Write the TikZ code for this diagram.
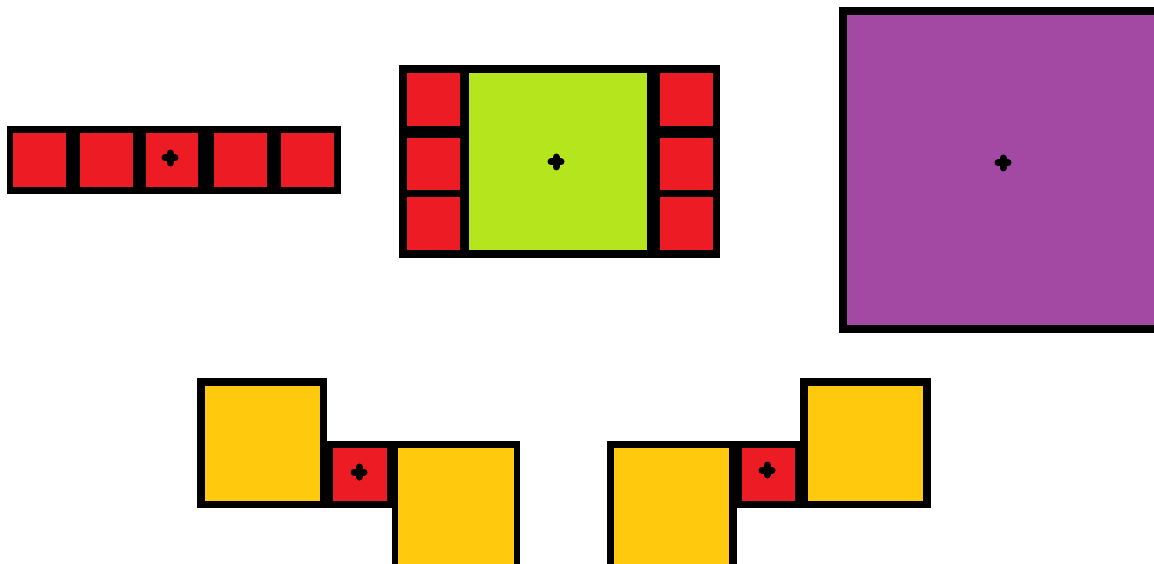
\documentclass[tikz,border=0pt]{standalone}
\usepackage{tikz}
\definecolor{pred}{HTML}{ED1C24}
\definecolor{pgreen}{HTML}{B5E61D}
\definecolor{ppurple}{HTML}{A349A4}
\definecolor{pyellow}{HTML}{FFC90E}
\tikzset{
  frame/.style={fill=black},
  cellred/.style={fill=pred},
  cellgreen/.style={fill=pgreen},
  cellpurple/.style={fill=ppurple},
  cellyellow/.style={fill=pyellow},
  plusmark/.pic={\draw[line width=7pt,line cap=round] (-5,0)--(5,0) (0,-5)--(0,5);}
}
\begin{document}
\begin{tikzpicture}[x=1pt,y=-1pt]
\useasboundingbox (0,0) rectangle (1154,564);
\clip (0,0) rectangle (1154,564);
% --- strip of five red cells ---
\fill[frame] (7,126) rectangle (341,194);
\foreach \a/\b in {13/66,80/133,146/198,214/267,281/334}
  \fill[cellred] (\a,133) rectangle (\b,187);
\pic at (170,158) {plusmark};
% --- green block with red cells ---
\fill[frame] (399,65) rectangle (720,258);
\foreach \a/\b in {73/126,138/190,197/250}{
  \fill[cellred] (407,\a) rectangle (460,\b);
  \fill[cellred] (660,\a) rectangle (713,\b);
}
\fill[cellgreen] (469,73) rectangle (647,250);
\pic at (556,162) {plusmark};
% --- purple block ---
\fill[frame] (839,7) rectangle (1170,333);
\fill[cellpurple] (847,15) rectangle (1170,325);
\pic at (1003,163) {plusmark};
% --- bottom left group ---
\fill[frame] (197,378) rectangle (327,508);
\fill[frame] (326,441) rectangle (520,508);
\fill[frame] (392,441) rectangle (520,580);
\fill[cellyellow] (205,386) rectangle (320,501);
\fill[cellred] (333,448) rectangle (387,501);
\fill[cellyellow] (398,448) rectangle (514,580);
\pic at (359,472) {plusmark};
% --- bottom right group ---
\fill[frame] (800,378) rectangle (931,508);
\fill[frame] (607,441) rectangle (801,508);
\fill[frame] (607,441) rectangle (737,580);
\fill[cellyellow] (808,386) rectangle (923,501);
\fill[cellred] (742,448) rectangle (795,501);
\fill[cellyellow] (614,448) rectangle (729,580);
\pic at (767,470) {plusmark};
\end{tikzpicture}
\end{document}
